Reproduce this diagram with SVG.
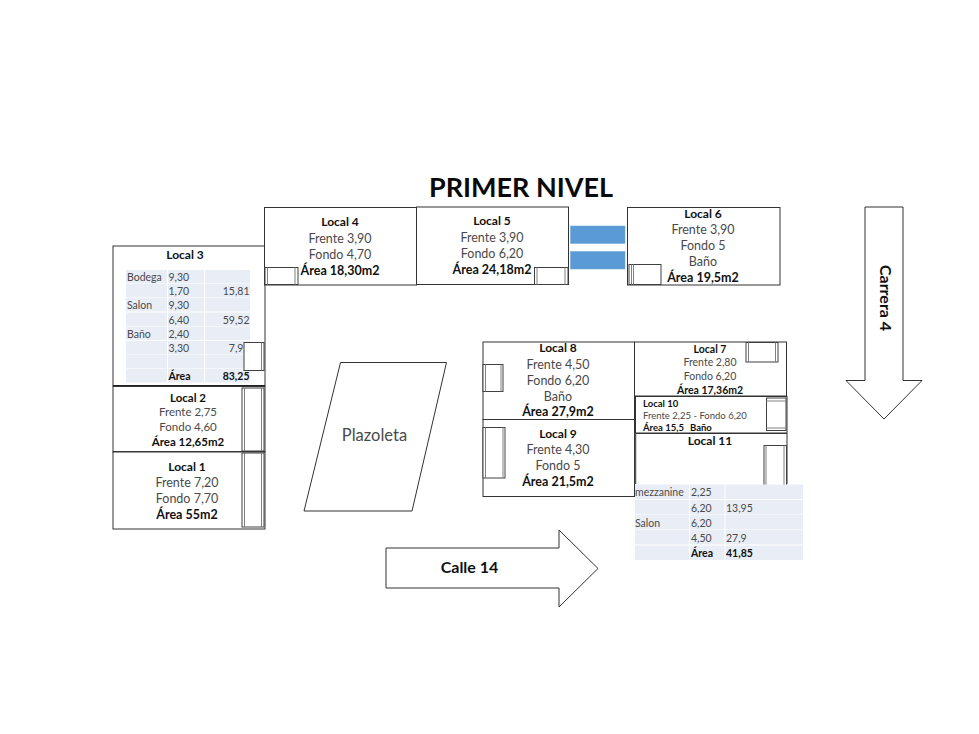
<svg xmlns="http://www.w3.org/2000/svg" width="979" height="734" viewBox="0 0 979 734">
<style>
text{font-family:"Lato","Carlito","Liberation Sans",sans-serif;fill:#4a4a4a;font-size:12.5px;text-anchor:middle}
.b{font-weight:700;fill:#111}
.box{fill:#fff;stroke:#333;stroke-width:1}
.door{fill:#fff;stroke:#404040;stroke-width:1}
.in{stroke:#808080;stroke-width:1;fill:none}
.cell{fill:#e9edf6}
.t{font-size:10.5px;text-anchor:start}
.n{font-size:10.5px;text-anchor:end}
</style>
<rect width="979" height="734" fill="#fff"/>
<g id="connectors"></g>
<text x="521" y="197" class="b" style="font-size:27px;fill:#0a0a0a">PRIMER NIVEL</text>

<g id="local3">
<rect class="box" x="113" y="246" width="152" height="140"/>
<text x="185" y="259" class="b" style="font-size:12px">Local  3</text>
<g>
<rect class="cell" x="126" y="270" width="41" height="13.5"/><rect class="cell" x="168" y="270" width="36" height="13.5"/><rect class="cell" x="205" y="270" width="45" height="13.5"/>
<rect class="cell" x="126" y="284" width="41" height="13.5"/><rect class="cell" x="168" y="284" width="36" height="13.5"/><rect class="cell" x="205" y="284" width="45" height="13.5"/>
<rect class="cell" x="126" y="298" width="41" height="13.5"/><rect class="cell" x="168" y="298" width="36" height="13.5"/><rect class="cell" x="205" y="298" width="45" height="13.5"/>
<rect class="cell" x="126" y="312.500" width="41" height="13.500"/><rect class="cell" x="168" y="312.500" width="36" height="13.500"/><rect class="cell" x="205" y="312.500" width="45" height="13.500"/>
<rect class="cell" x="126" y="326.500" width="41" height="13.500"/><rect class="cell" x="168" y="326.500" width="36" height="13.500"/><rect class="cell" x="205" y="326.500" width="45" height="13.500"/>
<rect class="cell" x="126" y="341" width="41" height="13.500"/><rect class="cell" x="168" y="341" width="36" height="13.500"/><rect class="cell" x="205" y="341" width="45" height="13.500"/>
<rect class="cell" x="126" y="355" width="41" height="13.500"/><rect class="cell" x="168" y="355" width="36" height="13.500"/><rect class="cell" x="205" y="355" width="45" height="13.500"/>
<rect class="cell" x="126" y="369" width="41" height="13.500"/><rect class="cell" x="168" y="369" width="36" height="13.500"/><rect class="cell" x="205" y="369" width="45" height="13.500"/>
</g>
<text x="127" y="281" class="t">Bodega</text><text x="168.500" y="281" class="t">9,30</text>
<text x="168.500" y="295" class="t">1,70</text><text x="249.500" y="295" class="n">15,81</text>
<text x="127" y="309" class="t">Salon</text><text x="168.500" y="309" class="t">9,30</text>
<text x="168.500" y="323.500" class="t">6,40</text><text x="249.500" y="323.500" class="n">59,52</text>
<text x="127" y="337.500" class="t">Baño</text><text x="168.500" y="337.500" class="t">2,40</text>
<text x="168.500" y="352" class="t">3,30</text><text x="249.500" y="352" class="n">7,92</text>
<text x="168.500" y="380" class="t b">Área</text><text x="249.500" y="380" class="n b">83,25</text>
<rect class="door" x="244" y="342.500" width="20" height="28"/><path class="in" d="M261.500 342.500V370.500"/>
<path d="M113 386H265" stroke="#222" stroke-width="2"/>
</g>

<g id="local2">
<rect class="box" x="113" y="386.500" width="152" height="65.500"/>
<text x="188" y="402" class="b" style="font-size:11.500px">Local 2</text>
<text x="188" y="416" style="font-size:11.500px">Frente  2,75</text>
<text x="188" y="431" style="font-size:11.500px">Fondo 4,60</text>
<text x="188" y="446" class="b" style="font-size:11.500px">Área 12,65m2</text>
<rect class="door" x="242" y="388" width="22" height="63"/><path class="in" d="M244.500 388V451M261.500 388V451"/>
<path d="M113 452H265" stroke="#222" stroke-width="1.500"/>
</g>

<g id="local1">
<rect class="box" x="113" y="452" width="152" height="77"/>
<text x="187" y="471" class="b" style="font-size:12px">Local  1</text>
<text x="187" y="487" style="font-size:12.500px">Frente 7,20</text>
<text x="187" y="503" style="font-size:12.500px">Fondo 7,70</text>
<text x="187" y="519" class="b" style="font-size:12.500px">Área 55m2</text>
<rect class="door" x="242" y="453" width="22" height="74"/><path class="in" d="M244.500 453V527M261.500 453V527"/>
</g>

<g id="local4">
<rect class="box" x="264.500" y="207.500" width="152" height="77.500"/>
<text x="340" y="226" class="b" style="font-size:12px">Local  4</text>
<text x="340" y="243" style="font-size:12.500px">Frente 3,90</text>
<text x="340" y="259" style="font-size:12.500px">Fondo 4,70</text>
<text x="340" y="275" class="b" style="font-size:12.500px">Área 18,30m2</text>
<rect class="door" x="265" y="267.500" width="33" height="17"/><path class="in" d="M267.500 267.500V284.500M295 267.500V284.500"/>
</g>

<g id="local5">
<rect class="box" x="416.500" y="207" width="152" height="77.500"/>
<text x="492" y="225" class="b" style="font-size:12px">Local  5</text>
<text x="492" y="242" style="font-size:12.500px">Frente 3,90</text>
<text x="492" y="258" style="font-size:12.500px">Fondo 6,20</text>
<text x="492" y="274" class="b" style="font-size:12.500px">Área 24,18m2</text>
<rect class="door" x="534.500" y="267.500" width="33.500" height="17"/><path class="in" d="M537 267.500V284.500M565 267.500V284.500"/>
</g>

<g id="stairs">
<rect x="570.500" y="226" width="54.500" height="17.500" fill="#5b9bd5" stroke="#6aa3d8" stroke-width=".5"/>
<rect x="570.500" y="251.500" width="54.500" height="17.500" fill="#5b9bd5" stroke="#6aa3d8" stroke-width=".5"/>
</g>

<g id="local6">
<rect class="box" x="627.500" y="207.500" width="152.500" height="77.500"/>
<text x="703" y="218" class="b" style="font-size:12px">Local  6</text>
<text x="703" y="234" style="font-size:12.500px">Frente 3,90</text>
<text x="703" y="250" style="font-size:12.500px">Fondo 5</text>
<text x="703" y="266" style="font-size:12.500px">Baño</text>
<text x="703" y="282" class="b" style="font-size:12.500px">Área 19,5m2</text>
<rect class="door" x="629" y="264.500" width="32" height="20"/><path class="in" d="M631.500 264.500V284.500M633.500 264.500V284.500"/>
</g>

<g id="plazoleta">
<path class="box" d="M340.500 362.500H446.500L412 511H304Z"/>
<text x="374.500" y="441" style="font-size:16.500px">Plazoleta</text>
</g>

<g id="local8">
<rect class="box" x="483" y="342" width="151.500" height="77.500"/>
<text x="558" y="352" class="b" style="font-size:12px">Local  8</text>
<text x="558" y="369" style="font-size:12.500px">Frente 4,50</text>
<text x="558" y="385" style="font-size:12.500px">Fondo 6,20</text>
<text x="558" y="401" style="font-size:12.500px">Baño</text>
<text x="558" y="416" class="b" style="font-size:12.500px">Área 27,9m2</text>
<rect class="door" x="483" y="364.500" width="20" height="27"/><path class="in" d="M485.500 364.500V391.500M501 364.500V391.500"/>
</g>

<g id="local9">
<rect class="box" x="483" y="419.500" width="151.500" height="77"/>
<text x="558" y="438" class="b" style="font-size:12px">Local  9</text>
<text x="558" y="454" style="font-size:12.500px">Frente 4,30</text>
<text x="558" y="470" style="font-size:12.500px">Fondo 5</text>
<text x="558" y="486" class="b" style="font-size:12.500px">Área 21,5m2</text>
<rect class="door" x="483" y="427.500" width="22" height="50.500"/><path class="in" d="M485.500 427.500V478M503 427.500V478"/>
</g>

<g id="local7">
<rect class="box" x="634.500" y="342" width="152" height="54"/>
<text x="710" y="353" class="b" style="font-size:10.500px">Local 7</text>
<text x="710" y="366" style="font-size:10.500px">Frente 2,80</text>
<text x="710" y="380" style="font-size:10.500px">Fondo 6,20</text>
<text x="710" y="394" class="b" style="font-size:10.500px">Área 17,36m2</text>
<rect class="door" x="746" y="342.500" width="32" height="19.500"/><path class="in" d="M748.500 342.500V362M775.500 342.500V362"/>
</g>

<g id="local10">
<rect class="box" x="635.500" y="396.500" width="151.500" height="36.500"/>
<text x="643" y="407" class="t b" style="font-size:9.500px">Local 10</text>
<text x="643" y="419" class="t" style="font-size:9.500px">Frente  2,25 - Fondo 6,20</text>
<text x="643" y="431" class="t b" style="font-size:9.500px">Área 15,5</text>
<text x="690" y="431" class="t b" style="font-size:9.500px">Baño</text>
<rect class="door" x="766.500" y="398" width="19.500" height="32.500"/><path class="in" d="M766.500 401H786M766.500 428H786"/>
</g>

<g id="local11">
<path d="M635.500 433.500H787V484M635.500 433.500V484" fill="#fff" stroke="#333" stroke-width="1"/>
<path d="M635.500 433V484" stroke="#555" stroke-width="1.500"/>
<text x="710" y="445" class="b" style="font-size:12px">Local  11</text>
<rect class="door" x="764" y="445.500" width="22.500" height="40"/><path class="in" d="M766 445.500V485M784 445.500V485"/>
<rect class="cell" x="635" y="484.500" width="54" height="14.500"/><rect class="cell" x="690" y="484.500" width="34.500" height="14.500"/><rect class="cell" x="725.500" y="484.500" width="77.500" height="14.500"/>
<rect class="cell" x="635" y="500" width="54" height="14.500"/><rect class="cell" x="690" y="500" width="34.500" height="14.500"/><rect class="cell" x="725.500" y="500" width="77.500" height="14.500"/>
<rect class="cell" x="635" y="515" width="54" height="14.500"/><rect class="cell" x="690" y="515" width="34.500" height="14.500"/><rect class="cell" x="725.500" y="515" width="77.500" height="14.500"/>
<rect class="cell" x="635" y="530" width="54" height="14.500"/><rect class="cell" x="690" y="530" width="34.500" height="14.500"/><rect class="cell" x="725.500" y="530" width="77.500" height="14.500"/>
<rect class="cell" x="635" y="545.500" width="54" height="14.500"/><rect class="cell" x="690" y="545.500" width="34.500" height="14.500"/><rect class="cell" x="725.500" y="545.500" width="77.500" height="14.500"/>
<text x="635" y="496" class="t">mezzanine</text><text x="691" y="496" class="t">2,25</text>
<text x="691" y="511.500" class="t">6,20</text><text x="726" y="511.500" class="t">13,95</text>
<text x="635" y="527" class="t">Salon</text><text x="691" y="527" class="t">6,20</text>
<text x="691" y="542" class="t">4,50</text><text x="726" y="542" class="t">27,9</text>
<text x="691" y="557" class="t b">Área</text><text x="726" y="557" class="t b">41,85</text>
</g>

<g id="calle14">
<path class="box" d="M386 548H559V530L598 568.500L559 607V588H386Z"/>
<text x="469.500" y="573" class="b" style="font-size:16px">Calle 14</text>
</g>

<g id="carrera4">
<path class="box" d="M865 207H903V380.500H922L884 419L846 380.500H865Z"/>
<text transform="translate(880 298) rotate(90)" x="0" y="0" class="b" style="font-size:16px">Carrera 4</text>
</g>
</svg>
